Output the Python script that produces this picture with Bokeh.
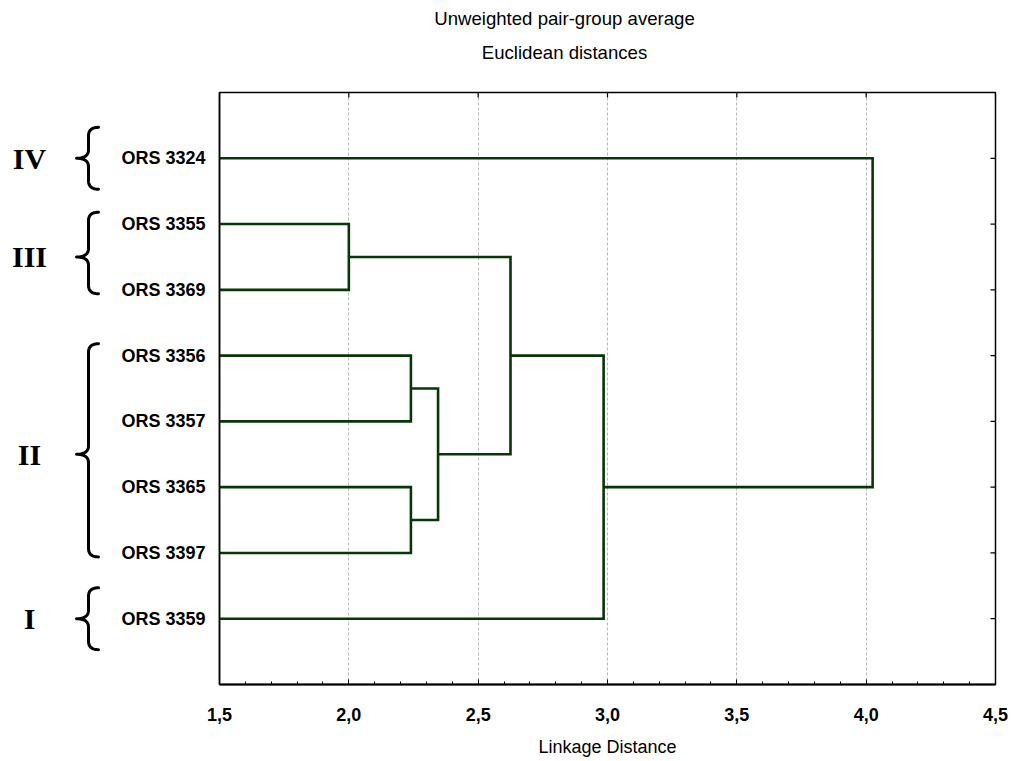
import numpy as np
from bokeh.plotting import figure
from bokeh.layouts import row, column
from bokeh.models import Range1d, FixedTicker, CustomJSTickFormatter
from bokeh.core.properties import value
from bokeh.embed import file_html
from bokeh.resources import INLINE

# ---------------- data ----------------
leaf_labels = ["ORS 3324", "ORS 3355", "ORS 3369", "ORS 3356",
               "ORS 3357", "ORS 3365", "ORS 3397", "ORS 3359"]
# merges: cluster ids 0..7 are leaves, 8.. are merged clusters in order
merge_a = [1, 3, 5, 9, 8, 12, 0]
merge_b = [2, 4, 6, 10, 11, 7, 13]
merge_height = [2.00, 2.24, 2.24, 2.345, 2.625, 2.985, 4.025]
x_ticks = [1.5, 2.0, 2.5, 3.0, 3.5, 4.0, 4.5]
x_minor = [1.5, 1.6, 1.7, 1.8, 1.9, 2.0, 2.1, 2.2, 2.3, 2.4, 2.5, 2.6, 2.7, 2.8,
           2.9, 3.0, 3.1, 3.2, 3.3, 3.4, 3.5, 3.6, 3.7, 3.8, 3.9, 4.0, 4.1, 4.2,
           4.3, 4.4, 4.5]
group_names = ["IV", "III", "II", "I"]
group_first = [0, 1, 3, 7]
group_last = [0, 2, 6, 7]
title_lines = ["Unweighted pair-group average", "Euclidean distances"]

# ---------------- dendrogram geometry ----------------
n = len(leaf_labels)
ypos = {i: i + 1 for i in range(n)}
hgt = {i: x_ticks[0] for i in range(n)}
xs, ys = [], []
for k, (a, b, h) in enumerate(zip(merge_a, merge_b, merge_height)):
    cid = n + k
    xs.append([hgt[a], h, h, hgt[b]])
    ys.append([ypos[a], ypos[a], ypos[b], ypos[b]])
    ypos[cid] = (ypos[a] + ypos[b]) / 2
    hgt[cid] = h

FONT = "Liberation Sans"
HEAD = 80            # header strip holding the two title lines
BT, BB = 12, 74
FRAME_W, FRAME_H = 776, 593
H = BT + FRAME_H + BB
LW = 108
MW = 111 + FRAME_W + 16

y_range = Range1d(n + 1, 0)

p = figure(width=MW, height=H,
           x_range=Range1d(x_ticks[0], x_ticks[-1]), y_range=y_range,
           output_backend="svg", toolbar_location=None,
           min_border_left=111, min_border_right=16,
           min_border_top=BT, min_border_bottom=BB)
p.outline_line_color = "black"
p.outline_line_width = 1.5
p.background_fill_color = "white"
p.border_fill_color = "white"

p.multi_line(xs=xs, ys=ys, line_color="#073607", line_width=2.6,
             line_join="miter")

# bottom axis
bx = p.below[0]
bx.ticker = FixedTicker(ticks=x_ticks, minor_ticks=x_minor)
bx.formatter = CustomJSTickFormatter(code="return tick.toFixed(1).replace('.', ',');")
bx.major_tick_in = 5
bx.major_tick_out = 0
bx.minor_tick_in = 3
bx.minor_tick_out = 0
bx.axis_line_width = 2
bx.axis_line_color = "black"
bx.major_label_text_font = FONT
bx.major_label_text_font_style = "bold"
bx.major_label_text_font_size = "18px"
bx.major_label_text_color = "black"
bx.major_label_standoff = 23
bx.axis_label = "Linkage Distance"
bx.axis_label_text_font = FONT
bx.axis_label_text_font_style = "normal"
bx.axis_label_text_font_size = "18px"
bx.axis_label_text_color = "black"
bx.axis_label_standoff = 13

# left axis
ly = p.left[0]
ly.ticker = FixedTicker(ticks=list(range(1, n + 1)))
ly.major_label_overrides = {i + 1: lab for i, lab in enumerate(leaf_labels)}
ly.major_tick_in = 0
ly.major_tick_out = 0
ly.minor_tick_line_color = None
ly.axis_line_color = "black"
ly.axis_line_width = 1.5
ly.major_label_text_font = FONT
ly.major_label_text_font_style = "bold"
ly.major_label_text_font_size = "18px"
ly.major_label_text_color = "black"
ly.major_label_standoff = 14

# grid
p.xgrid.ticker = FixedTicker(ticks=x_ticks)
p.xgrid.grid_line_color = "#b8b8b8"
p.xgrid.grid_line_dash = "3 2"
p.xgrid.grid_line_width = 1
p.ygrid.grid_line_color = None

# inward ticks on the top and right edges of the frame
p.ray(x=x_ticks, y=[y_range.end] * len(x_ticks), length=5,
      length_units="screen", angle=-np.pi / 2, line_color="black", line_width=1.2)
p.ray(x=[x_ticks[-1]] * n, y=list(range(1, n + 1)), length=5,
      length_units="screen", angle=np.pi, line_color="black", line_width=1.2)

# ---------------- header: two-line title ----------------
hd = figure(width=LW + MW, height=HEAD, x_range=Range1d(0, LW + MW),
            y_range=Range1d(HEAD, 0), output_backend="svg",
            toolbar_location=None, x_axis_type=None, y_axis_type=None,
            min_border_left=0, min_border_right=0,
            min_border_top=0, min_border_bottom=0)
hd.outline_line_color = None
hd.grid.visible = False
hd.text(x=[564, 564], y=[18, 52], text=title_lines,
        text_font=value(FONT), text_font_size="18.6px",
        text_align="center", text_baseline="middle", text_color="black")

# ---------------- left panel: braces and group numerals ----------------
lp = figure(width=LW, height=H, x_range=Range1d(0, LW), y_range=y_range,
            output_backend="svg", toolbar_location=None,
            x_axis_type=None, y_axis_type=None,
            min_border_left=0, min_border_right=0,
            min_border_top=BT, min_border_bottom=BB)
lp.outline_line_color = None
lp.grid.visible = False


def quad(p0, c, p1, m=14):
    t = np.linspace(0, 1, m)
    x = (1 - t) ** 2 * p0[0] + 2 * (1 - t) * t * c[0] + t ** 2 * p1[0]
    y = (1 - t) ** 2 * p0[1] + 2 * (1 - t) * t * c[1] + t ** 2 * p1[1]
    return list(x), list(y)


bxs, bys, mids = [], [], []
x_end, x_sp, x_tip, r = 98, 88, 76, 0.13
for f, l in zip(group_first, group_last):
    if f == l:
        top, bot = ypos[f] - 0.47, ypos[l] + 0.47
    else:
        top, bot = ypos[f] - 0.18, ypos[l] + 0.06
    mid = (ypos[f] + ypos[l]) / 2
    mids.append(mid)
    px, py = [], []
    for seg in (quad((x_end, top), (x_sp, top), (x_sp, top + r)),
                quad((x_sp, mid - r), (x_sp, mid), (x_tip, mid)),
                quad((x_tip, mid), (x_sp, mid), (x_sp, mid + r)),
                quad((x_sp, bot - r), (x_sp, bot), (x_end, bot))):
        px += seg[0]
        py += seg[1]
    bxs.append(px)
    bys.append(py)

lp.multi_line(xs=bxs, ys=bys, line_color="black", line_width=3,
              line_cap="round", line_join="round")
lp.text(x=[29] * len(group_names), y=mids, text=group_names,
        text_font=value("Liberation Serif"), text_font_style="bold",
        text_font_size="30px", text_align="center", text_baseline="middle",
        text_color="black")

layout = column(hd, row(lp, p))
open("out.html", "w").write(file_html(layout, INLINE))
